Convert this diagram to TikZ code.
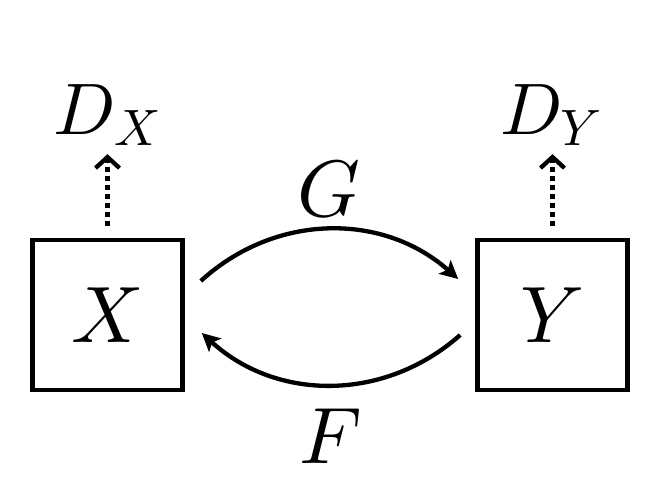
\documentclass[tikz,border=0pt]{standalone}
\DeclareFontShape{OML}{cmm}{m}{it}{<-> cmmi10}{\skewchar\font'177}
\DeclareFontShape{OMS}{cmsy}{m}{n}{<-> cmsy10}{\skewchar\font'60}
\usetikzlibrary{arrows.meta}
\tikzset{
  var/.style={draw, line width=4.6pt, minimum size=150pt, inner sep=0pt, font=\fontsize{80}{90}\selectfont},
  lbl/.style={inner sep=0pt, anchor=base, font=\fontsize{80}{90}\selectfont},
  dlbl/.style={inner sep=0pt, anchor=base, font=\fontsize{73}{84}\selectfont},
  map/.style={line width=4.3pt, -{Stealth[length=18pt,width=18pt,inset=4pt]}},
  disc/.style={line width=4.3pt, dash pattern=on 4.5pt off 4.5pt, -{Straight Barb[length=11pt,width=24pt]}}
}
\begin{document}
\begin{tikzpicture}[x=1pt,y=-1pt]
\useasboundingbox (0,0) rectangle (647,481);
\node[var] (X) at (107.5,315) {$X$};
\node[var] (Y) at (552.5,315) {$Y$};
\node[dlbl] (DX) at (107.5,135) {$D_X$};
\node[dlbl] (DY) at (551,135) {$D_Y$};
\node[lbl] (G) at (329,216) {$G$};
\node[lbl] (F) at (331,463) {$F$};
\draw[disc, shorten <=12pt, shorten >=8pt] (X.north) -- (X.north |- DX.south);
\draw[disc, shorten <=12pt, shorten >=8pt] (Y.north) -- (Y.north |- DY.south);
\draw[map] ([xshift=16pt,yshift=34pt]X.east) to[bend left=42] ([xshift=-17pt,yshift=36pt]Y.west);
\draw[map] ([xshift=-15pt,yshift=-20pt]Y.west) to[bend left=42] ([xshift=17pt,yshift=-18pt]X.east);
\end{tikzpicture}
\end{document}
